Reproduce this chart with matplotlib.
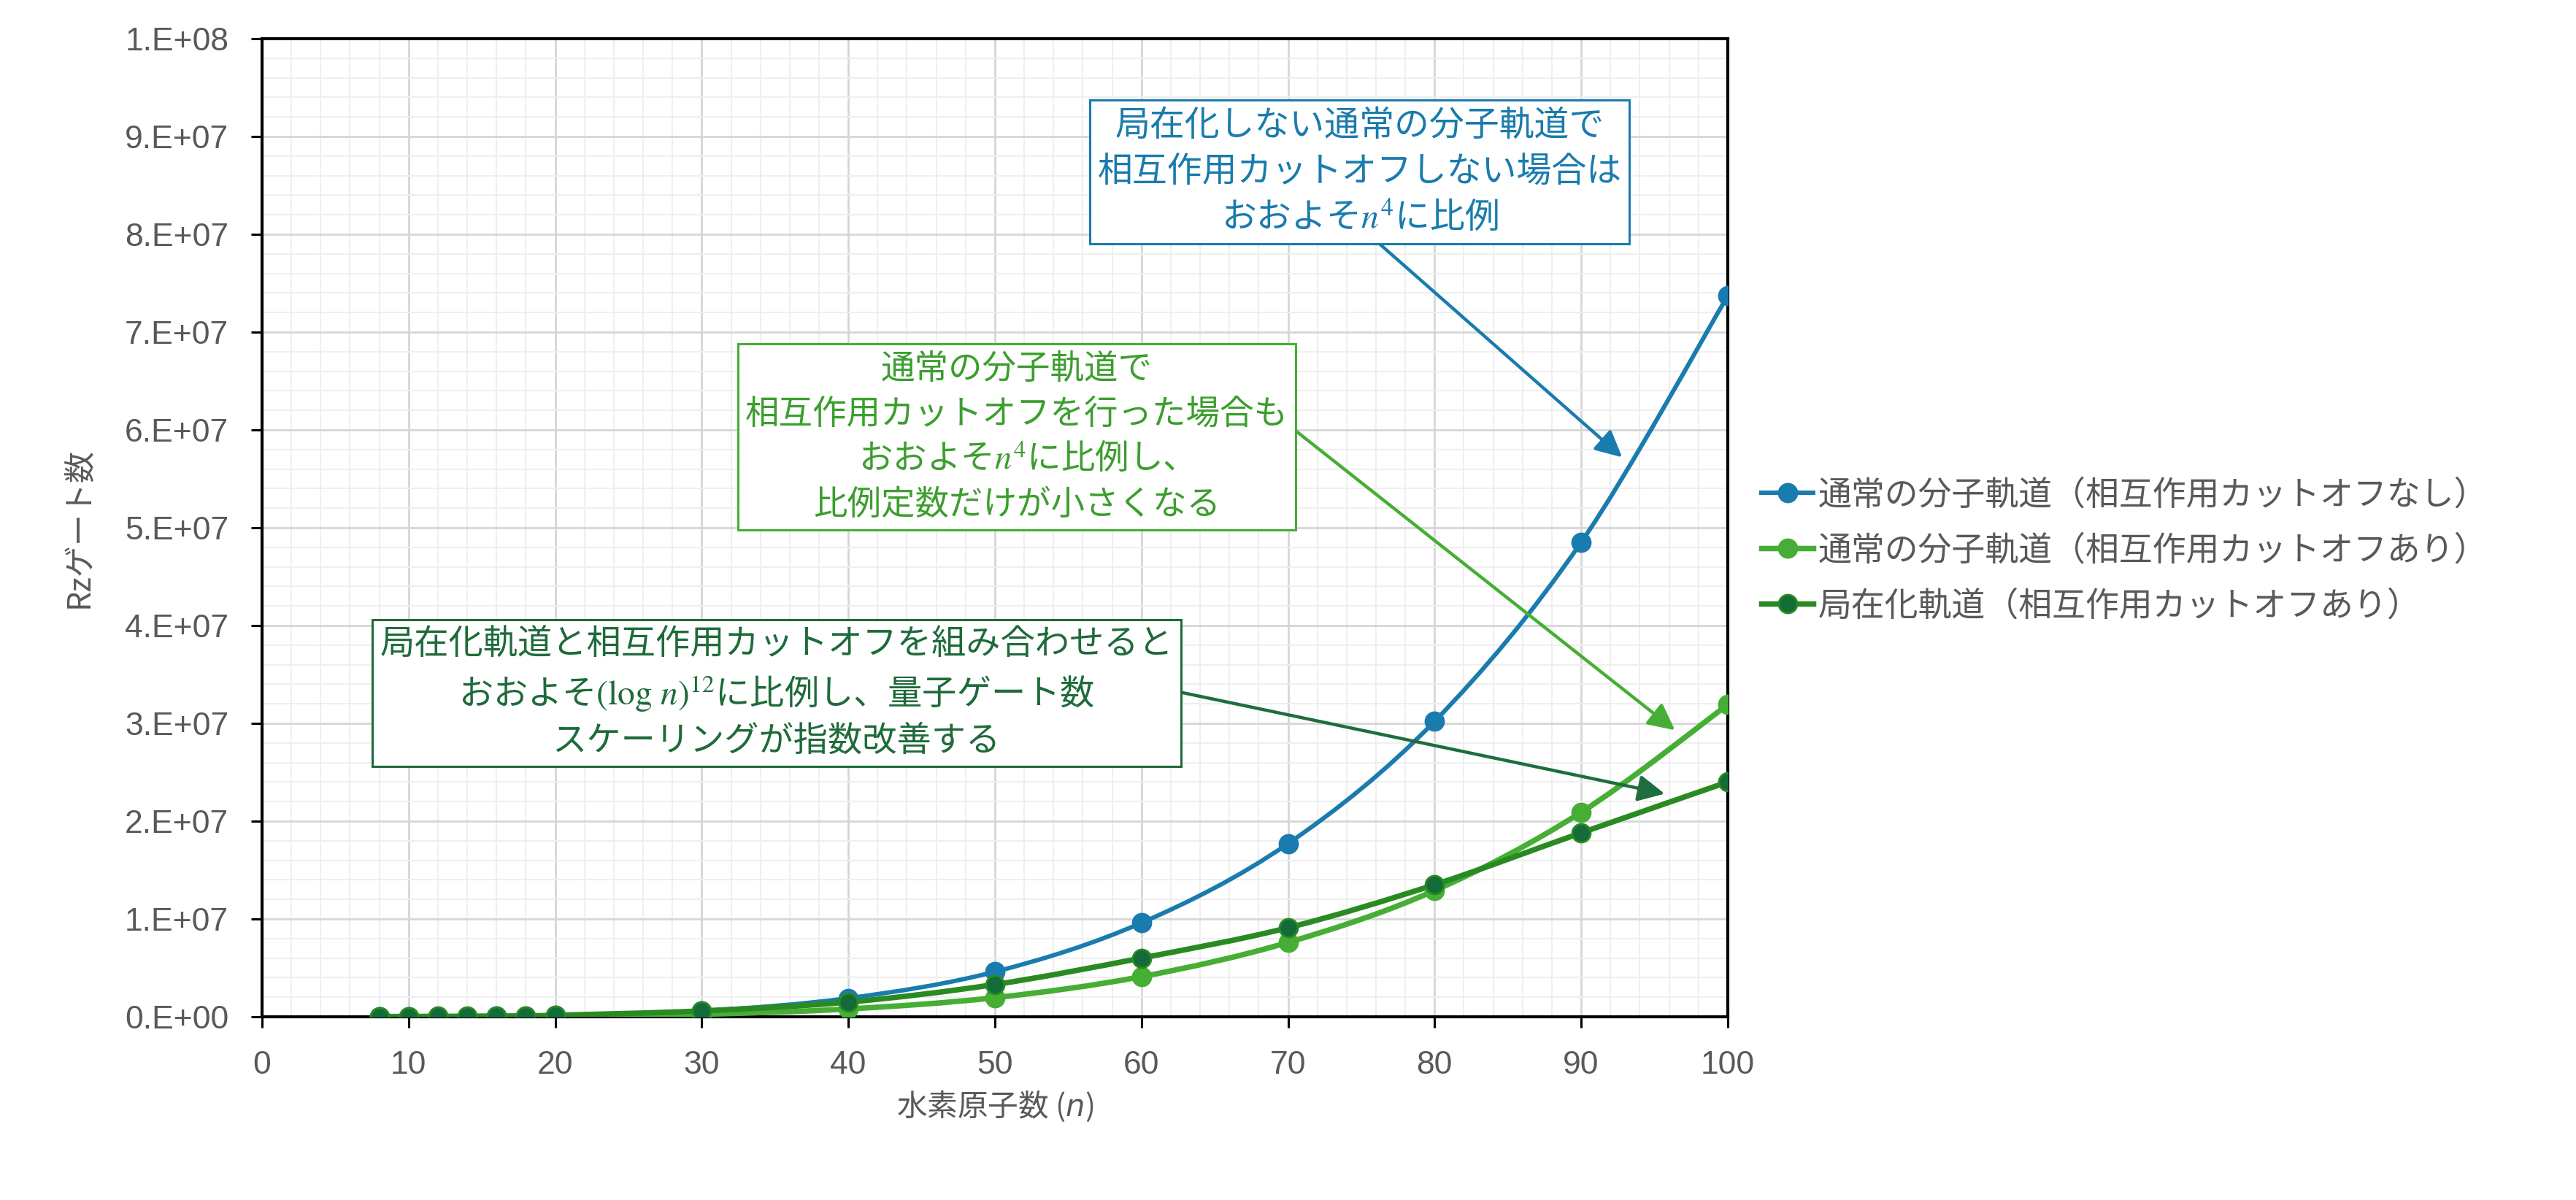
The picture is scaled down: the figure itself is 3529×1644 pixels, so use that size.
import numpy as np
import matplotlib
matplotlib.use("Agg")
import matplotlib.pyplot as plt
from matplotlib.path import Path
from matplotlib.patches import PathPatch
from matplotlib.lines import Line2D
from matplotlib.ticker import MultipleLocator, FuncFormatter

plt.rcParams['font.family'] = ['Noto Sans CJK JP', 'DejaVu Sans']
plt.rcParams['mathtext.fontset'] = 'stix'

# data
n_atoms = [8, 10, 12, 14, 16, 18, 20, 30, 40, 50, 60, 70, 80, 90, 100]
rz_canonical = [3.0e3, 7.4e3, 1.5e4, 2.8e4, 4.8e4, 7.7e4, 1.2e5, 6.0e5, 1.9e6,
                4.6e6, 9.6e6, 1.77e7, 3.02e7, 4.85e7, 7.37e7]
rz_canonical_cut = [1.0e3, 2.6e3, 5.5e3, 1.0e4, 1.8e4, 3.0e4, 4.8e4, 2.5e5, 8.0e5,
                    1.95e6, 4.1e6, 7.6e6, 1.29e7, 2.09e7, 3.19e7]
rz_local_cut = [2.0e4, 3.0e4, 4.2e4, 5.6e4, 7.4e4, 9.5e4, 1.5e5, 6.0e5, 1.5e6,
                3.3e6, 6.0e6, 9.1e6, 1.35e7, 1.88e7, 2.40e7]

labels = ['通常の分子軌道（相互作用カットオフなし）',
          '通常の分子軌道（相互作用カットオフあり）',
          '局在化軌道（相互作用カットオフあり）']

BLUE = '#1A7BAE'
LGREEN = '#46AE34'
DGREEN = '#2A8A22'
DGREEN_FACE = '#136B3A'
GRAY = '#595959'


def smooth_path(xs, ys):
    # excel-like smoothed line: bezier segments with catmull-rom control points
    pts = np.column_stack([xs, ys]).astype(float)
    n = len(pts)
    verts = [pts[0]]
    codes = [Path.MOVETO]
    for i in range(n - 1):
        p0 = pts[i - 1] if i > 0 else pts[i]
        p1 = pts[i]
        p2 = pts[i + 1]
        p3 = pts[i + 2] if i + 2 < n else pts[i + 1]
        verts += [p1 + (p2 - p0) / 6, p2 - (p3 - p1) / 6, p2]
        codes += [Path.CURVE4] * 3
    return Path(verts, codes)


fig = plt.figure(figsize=(35.3, 16.44), dpi=100)
ax = fig.add_axes([0.1017, 0.1527, 0.5688, 0.8151])

series = [
    (rz_canonical, BLUE, BLUE, 6.0),
    (rz_canonical_cut, LGREEN, LGREEN, 7.5),
    (rz_local_cut, DGREEN, DGREEN_FACE, 7.5),
]
handles = []
for (vals, col, face, lw), lab in zip(series, labels):
    ax.add_patch(PathPatch(smooth_path(n_atoms, vals), facecolor='none',
                           edgecolor=col, lw=lw / 1.389, zorder=3,
                           capstyle='round', joinstyle='round'))
    ax.plot(n_atoms, vals, linestyle='none', marker='o', markersize=18,
            markerfacecolor=face, markeredgecolor=col, markeredgewidth=2,
            zorder=4)
    handles.append(Line2D([], [], color=col, lw=lw / 1.389, marker='o',
                          markersize=18, markerfacecolor=face,
                          markeredgecolor=col, markeredgewidth=2))

ax.set_xlim(0, 100)
ax.set_ylim(0, 1e8)
ax.xaxis.set_major_locator(MultipleLocator(10))
ax.xaxis.set_minor_locator(MultipleLocator(2))
ax.yaxis.set_major_locator(MultipleLocator(1e7))
ax.yaxis.set_minor_locator(MultipleLocator(2e6))
ax.yaxis.set_major_formatter(FuncFormatter(lambda v, p: f"{v:#.0E}"))

ax.grid(which='major', color='#D6D6D6', lw=2.0, zorder=0)
ax.grid(which='minor', color='#EFEFEF', lw=1.5, zorder=0)
ax.set_axisbelow(True)
for s in ax.spines.values():
    s.set_color('black')
    s.set_linewidth(3)
ax.tick_params(which='major', direction='out', length=11, width=2.2,
               color='black', labelsize=32, labelcolor=GRAY, pad=22)
ax.tick_params(which='minor', length=0)
for t in ax.get_xticklabels() + ax.get_yticklabels():
    t.set_fontfamily('Liberation Sans')

ax.set_xlabel('水素原子数 ($n$)', fontsize=30, color=GRAY, labelpad=9,
              math_fontfamily='dejavusans')
ax.set_ylabel('Rzゲート数', fontsize=31, color=GRAY, labelpad=30)

# annotation arrows
arrow_kw = dict(arrowstyle='-|>,head_length=1.0,head_width=0.5',
                mutation_scale=22, lw=3.2, shrinkA=0, shrinkB=0)
ax.annotate('', xy=(92.8, 5.72e7), xytext=(75.5, 8.0e7),
            arrowprops=dict(color=BLUE, **arrow_kw), zorder=5)
ax.annotate('', xy=(96.4, 2.93e7), xytext=(68.5, 6.23e7),
            arrowprops=dict(color=LGREEN, **arrow_kw), zorder=5)
ax.annotate('', xy=(95.7, 2.28e7), xytext=(61.0, 3.37e7),
            arrowprops=dict(color='#1E6E3E', **arrow_kw), zorder=5)

# annotation boxes
box_texts = [
    ('局在化しない通常の分子軌道で\n相互作用カットオフしない場合は\nおおよそ$n^4$に比例',
     (0.749, 0.864), BLUE, BLUE, 34.5),
    ('通常の分子軌道で\n相互作用カットオフを行った場合も\nおおよそ$n^4$に比例し、\n比例定数だけが小さくなる',
     (0.515, 0.593), '#3C9E2E', LGREEN, 33.5),
    ('局在化軌道と相互作用カットオフを組み合わせると\nおおよそ$(\\log\\,n)^{12}$に比例し、量子ゲート数\nスケーリングが指数改善する',
     (0.351, 0.331), '#1E6B3A', '#1E6B3A', 34),
]
for txt, pos, tcol, ecol, fs in box_texts:
    ax.text(pos[0], pos[1], txt, transform=ax.transAxes, ha='center',
            va='center', multialignment='center', fontsize=fs, color=tcol,
            linespacing=1.36, zorder=6,
            bbox=dict(boxstyle='square,pad=0.22', facecolor='white',
                      edgecolor=ecol, lw=2.2))

fig.legend(handles=handles, labels=labels, loc='center left',
           bbox_to_anchor=(0.6836, 0.5414), frameon=False, fontsize=33,
           labelcolor=GRAY, handlelength=1.55, handletextpad=0.15,
           labelspacing=0.6, borderpad=0, borderaxespad=0)

fig.savefig('out.png', dpi=100)
